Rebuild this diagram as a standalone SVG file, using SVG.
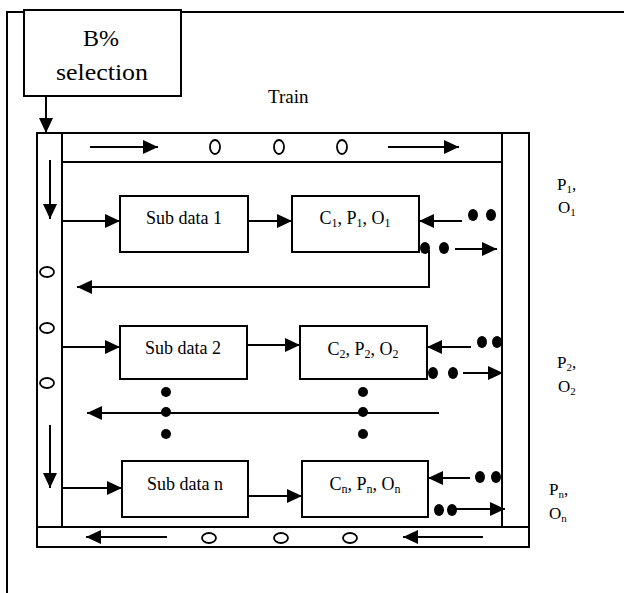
<svg xmlns="http://www.w3.org/2000/svg" width="624" height="593" viewBox="0 0 624 593">
<style>
.ln{stroke:#000;stroke-width:2;fill:none}
.bx{stroke:#000;stroke-width:2;fill:#fff}
.t{font-family:'Liberation Serif','DejaVu Serif','Times New Roman',Times,serif;fill:#000}
.oc{stroke:#000;stroke-width:1.8;fill:#fff}
.dot{fill:#000}
</style>
<defs>
<marker id="ah" markerUnits="userSpaceOnUse" markerWidth="16" markerHeight="14" refX="15" refY="7" orient="auto">
<path d="M0,0 L15,7 L0,14 Z" fill="#000"/>
</marker>
</defs>
<rect width="624" height="593" fill="#fff"/>
<g id="frame">
<path class="ln" d="M7,593 V12 H624"/>
</g>
<g id="bselect">
<rect class="bx" x="24" y="10" width="157" height="86"/>
<text class="t" x="101" y="46" font-size="24" text-anchor="middle">B%</text>
<text class="t" x="102" y="80" font-size="24" text-anchor="middle" textLength="92" lengthAdjust="spacingAndGlyphs">selection</text>
</g>
<g id="train">
<text class="t" x="268" y="103" font-size="19">Train</text>
</g>
<g id="bars">
<rect class="bx" x="37" y="133" width="25" height="394"/>
<rect class="bx" x="62" y="133" width="440" height="29"/>
<rect class="bx" x="502" y="133" width="27" height="394"/>
<rect class="bx" x="37" y="527" width="492" height="20"/>
<ellipse class="oc" cx="215" cy="147" rx="5" ry="7"/>
<ellipse class="oc" cx="279" cy="147" rx="5" ry="7"/>
<ellipse class="oc" cx="342" cy="147" rx="5" ry="7"/>
<ellipse class="oc" cx="47" cy="272" rx="7" ry="5"/>
<ellipse class="oc" cx="47" cy="328" rx="7" ry="5"/>
<ellipse class="oc" cx="47" cy="383" rx="7" ry="5"/>
<ellipse class="oc" cx="209" cy="538" rx="7" ry="5"/>
<ellipse class="oc" cx="281" cy="538" rx="7" ry="5"/>
<ellipse class="oc" cx="350" cy="538" rx="7" ry="5"/>
</g>
<g id="sub1">
<rect class="bx" x="120" y="196" width="128" height="56"/>
<text class="t" x="184" y="224" font-size="18" text-anchor="middle">Sub data 1</text>
</g>
<g id="cpo1">
<rect class="bx" x="292" y="196" width="127" height="56"/>
<text class="t" x="355" y="224" font-size="18" text-anchor="middle">C<tspan font-size="12" dy="3">1</tspan><tspan dy="-3">, P</tspan><tspan font-size="12" dy="3">1</tspan><tspan dy="-3">, O</tspan><tspan font-size="12" dy="3">1</tspan></text>
</g>
<g id="sub2">
<rect class="bx" x="120" y="326" width="127" height="53"/>
<text class="t" x="183" y="354" font-size="18" text-anchor="middle">Sub data 2</text>
</g>
<g id="cpo2">
<rect class="bx" x="300" y="326" width="127" height="53"/>
<text class="t" x="363" y="355" font-size="18" text-anchor="middle">C<tspan font-size="12" dy="3">2</tspan><tspan dy="-3">, P</tspan><tspan font-size="12" dy="3">2</tspan><tspan dy="-3">, O</tspan><tspan font-size="12" dy="3">2</tspan></text>
</g>
<g id="subn">
<rect class="bx" x="122" y="461" width="126" height="56"/>
<text class="t" x="185" y="490" font-size="18" text-anchor="middle">Sub data n</text>
</g>
<g id="cpon">
<rect class="bx" x="302" y="461" width="126" height="56"/>
<text class="t" x="365" y="490" font-size="18" text-anchor="middle">C<tspan font-size="12" dy="3">n</tspan><tspan dy="-3">, P</tspan><tspan font-size="12" dy="3">n</tspan><tspan dy="-3">, O</tspan><tspan font-size="12" dy="3">n</tspan></text>
</g>
<g id="labels">
<text class="t" x="557" y="190" font-size="17">P<tspan font-size="11" dy="3">1</tspan><tspan dy="-3">,</tspan></text>
<text class="t" x="558" y="213" font-size="17">O<tspan font-size="11" dy="3">1</tspan></text>
<text class="t" x="557" y="368" font-size="17">P<tspan font-size="11" dy="3">2</tspan><tspan dy="-3">,</tspan></text>
<text class="t" x="558" y="392" font-size="17">O<tspan font-size="11" dy="3">2</tspan></text>
<text class="t" x="549" y="495" font-size="17">P<tspan font-size="11" dy="3">n</tspan><tspan dy="-3">,</tspan></text>
<text class="t" x="549" y="519" font-size="17">O<tspan font-size="11" dy="3">n</tspan></text>
</g>
<g id="connectors">
<line class="ln" x1="46" y1="96" x2="46" y2="133" marker-end="url(#ah)"/>
<line class="ln" x1="90" y1="147" x2="158" y2="147" marker-end="url(#ah)"/>
<line class="ln" x1="388" y1="147" x2="459" y2="147" marker-end="url(#ah)"/>
<line class="ln" x1="50" y1="160" x2="50" y2="219" marker-end="url(#ah)"/>
<line class="ln" x1="50" y1="425" x2="50" y2="488" marker-end="url(#ah)"/>
<line class="ln" x1="167" y1="537" x2="86" y2="537" marker-end="url(#ah)"/>
<line class="ln" x1="483" y1="537" x2="403" y2="537" marker-end="url(#ah)"/>
<line class="ln" x1="62" y1="221" x2="120" y2="221" marker-end="url(#ah)"/>
<line class="ln" x1="248" y1="221" x2="292" y2="221" marker-end="url(#ah)"/>
<line class="ln" x1="462" y1="221" x2="419" y2="221" marker-end="url(#ah)"/>
<line class="ln" x1="455" y1="249" x2="497" y2="249" marker-end="url(#ah)"/>
<polyline class="ln" points="429,250 429,287 77,287" marker-end="url(#ah)"/>
<line class="ln" x1="62" y1="347" x2="120" y2="347" marker-end="url(#ah)"/>
<line class="ln" x1="247" y1="345" x2="300" y2="345" marker-end="url(#ah)"/>
<line class="ln" x1="471" y1="347" x2="427" y2="347" marker-end="url(#ah)"/>
<line class="ln" x1="463" y1="373" x2="503" y2="373" marker-end="url(#ah)"/>
<line class="ln" x1="439" y1="413" x2="87" y2="413" marker-end="url(#ah)"/>
<line class="ln" x1="62" y1="488" x2="122" y2="488" marker-end="url(#ah)"/>
<line class="ln" x1="248" y1="496" x2="302" y2="496" marker-end="url(#ah)"/>
<line class="ln" x1="470" y1="478" x2="428" y2="478" marker-end="url(#ah)"/>
<line class="ln" x1="455" y1="509" x2="505" y2="509" marker-end="url(#ah)"/>
</g>
<g id="dots">
<ellipse class="dot" cx="473" cy="215" rx="5" ry="6"/>
<ellipse class="dot" cx="491" cy="215" rx="5" ry="6"/>
<ellipse class="dot" cx="425" cy="248" rx="5" ry="6"/>
<ellipse class="dot" cx="444" cy="248" rx="5" ry="6"/>
<ellipse class="dot" cx="482" cy="342" rx="5" ry="6"/>
<ellipse class="dot" cx="497" cy="342" rx="5" ry="6"/>
<ellipse class="dot" cx="433" cy="373" rx="5" ry="6"/>
<ellipse class="dot" cx="453" cy="373" rx="5" ry="6"/>
<ellipse class="dot" cx="480" cy="477" rx="5" ry="6"/>
<ellipse class="dot" cx="496" cy="477" rx="5" ry="6"/>
<ellipse class="dot" cx="439" cy="510" rx="5" ry="6"/>
<ellipse class="dot" cx="452" cy="510" rx="5" ry="6"/>
<circle class="dot" cx="166" cy="392" r="5"/>
<circle class="dot" cx="166" cy="412" r="5"/>
<circle class="dot" cx="166" cy="434" r="5"/>
<circle class="dot" cx="363" cy="392" r="5"/>
<circle class="dot" cx="363" cy="412" r="5"/>
<circle class="dot" cx="363" cy="434" r="5"/>
</g>
</svg>
